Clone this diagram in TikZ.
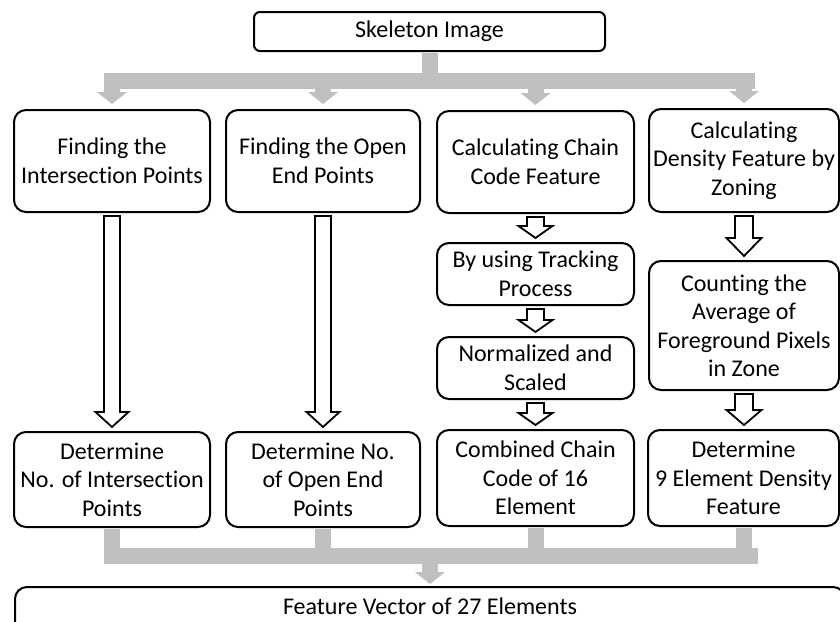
\documentclass[tikz,border=0pt]{standalone}
\usepackage{fontspec}
\setmainfont{Carlito}[Ligatures=NoCommon]
\usetikzlibrary{positioning,calc,arrows.meta}

% white block arrow between two nodes: from, to, half shaft width, head length
\newcommand{\hollowarrow}[4]{%
  \draw[hollow] let \p1=(#1.south), \p2=(#2.north) in
    (\x1-#3,\y1-3pt) -- (\x1-#3,\y2+4pt+#4) -- (\x1-#3-8.5pt,\y2+4pt+#4)
    -- (\x1,\y2+4pt) -- (\x1+#3+8.5pt,\y2+4pt+#4) -- (\x1+#3,\y2+4pt+#4)
    -- (\x1+#3,\y1-3pt) -- cycle;}

\begin{document}
\begin{tikzpicture}[x=1pt, y=1pt,
    txt/.style={align=center, inner sep=0pt, font=\fontsize{24}{28.5}\selectfont},
    box/.style={txt, draw, line width=2pt, rounded corners=12pt},
    colbox/.style={box, minimum width=196pt},
    feed/.style={line width=16pt, gray!50},
    feedtip/.style={-{Triangle[width=30pt, length=12pt, line width=0pt]}},
    hollow/.style={line width=1.8pt, fill=white, line join=miter}]
  \useasboundingbox (0,0) rectangle (840,-621);

  % --- input ---
  \node[box, rounded corners=6pt, minimum width=351pt, minimum height=39pt]
    (skel) at (429.5,-31.5) {Skeleton Image};

  % --- first step of each feature ---
  \node[colbox, minimum height=102pt] (inter) at (112,-161)
    {Finding the\\Intersection Points};
  \node[colbox, minimum width=194pt, minimum height=102pt] (open) at (323,-161)
    {Finding the Open\\End Points};
  \node[colbox, minimum width=197pt, minimum height=102pt] (chain) at (535.5,-162)
    {Calculating Chain\\Code Feature};
  \node[colbox, minimum width=190pt, minimum height=103pt] (dens) at (744,-160.5)
    {Calculating\\Density Feature by\\Zoning};

  % --- chain code steps ---
  \node[colbox, minimum width=197pt, minimum height=62pt] (track) at (535.5,-274)
    {By using Tracking\\Process};
  \node[colbox, minimum width=197pt, minimum height=62pt] (norm) at (535.5,-368)
    {Normalized and\\Scaled};

  % --- density step ---
  \node[colbox, minimum width=190pt, minimum height=129pt] (count) at (744,-325.5)
    {Counting the\\Average of\\Foreground Pixels\\in Zone};

  % --- results ---
  \node[colbox, minimum height=95pt] (detint) at (112,-479.5)
    {Determine\\No. of Intersection\\Points};
  \node[colbox, minimum width=194pt, minimum height=95pt] (detopen) at (323,-479.5)
    {Determine No.\\of Open End\\Points};
  \node[colbox, minimum width=197pt, minimum height=96pt] (comb) at (535.5,-478)
    {Combined Chain\\Code of 16\\Element};
  \node[colbox, minimum width=191pt, minimum height=96pt] (det9) at (743.5,-478)
    {Determine\\9 Element Density\\Feature};

  % --- output (frame runs off the bottom) ---
  \node[txt] (feat) at (430,-606) {Feature Vector of 27 Elements};
  \coordinate (feattop) at (feat |- 0,-587);
  \draw[line width=2pt, rounded corners=12pt]
    (15,-640) |- (845,-587) -- (845,-640);

  % gray split from the input
  \coordinate (split) at (skel.south |- 0,-81);
  \draw[feed] ([yshift=-1pt]skel.south) -- (split);
  \draw[feed, line cap=rect] (split -| inter) -- ([xshift=3pt]split -| dens);
  \foreach \n in {inter,open,chain,dens}
    \draw[feed, feedtip, shorten >=5pt] (split -| \n.north) -- (\n.north);

  % white arrows down each column
  \hollowarrow{inter}{detint}{8pt}{15pt}
  \hollowarrow{open}{detopen}{8pt}{15pt}
  \hollowarrow{chain}{track}{8.5pt}{12pt}
  \hollowarrow{track}{norm}{8.5pt}{12pt}
  \hollowarrow{norm}{comb}{8.5pt}{12pt}
  \hollowarrow{dens}{count}{9pt}{18pt}
  \hollowarrow{count}{det9}{9pt}{15pt}

  % gray merge into the output
  \coordinate (merge) at (feat |- 0,-556);
  \foreach \n in {detint,detopen,comb,det9}
    \draw[feed] ([yshift=-1pt]\n.south) -- (\n.south |- merge);
  \draw[feed, line cap=rect] (merge -| detint) -- ([xshift=6pt]merge -| det9);
  \draw[feed, feedtip, shorten >=3pt] (merge) -- (feattop);
\end{tikzpicture}
\end{document}
